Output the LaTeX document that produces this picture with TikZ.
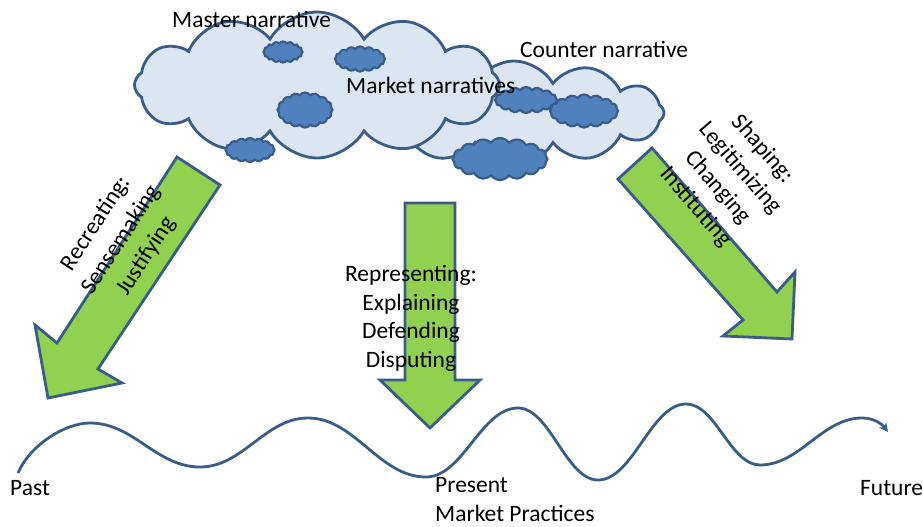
\documentclass[tikz,border=0pt]{standalone}
\usepackage{fontspec}
\setmainfont{Carlito}
\usetikzlibrary{shapes.symbols,arrows.meta}
\definecolor{cloudfill}{HTML}{DCE6F2}
\definecolor{edgeblue}{HTML}{385D8A}
\definecolor{darkcloud}{HTML}{4F81BD}
\definecolor{arrowgreen}{HTML}{92D050}
\begin{document}
\begin{tikzpicture}[x=1pt,y=1pt,
  bigcloud/.style={cloud, draw=edgeblue, fill=cloudfill, line width=2.8pt, cloud puffs=12, cloud puff arc=120, inner sep=0pt},
  smallcloud/.style={cloud, draw=edgeblue, fill=darkcloud, line width=2.2pt, cloud puffs=16, cloud puff arc=110, inner sep=0pt},
  greenarrow/.style={draw=edgeblue, fill=arrowgreen, line width=2.8pt, line join=miter},
  lbl/.style={font=\fontsize{23.5}{28.5}\selectfont, inner sep=0pt},
  wave/.style={draw=edgeblue, line width=2.8pt, -{Stealth[length=9pt,width=9pt]}}]
\useasboundingbox[fill=white] (0,0) rectangle (923,-527);

% clouds
\node[bigcloud, minimum width=300pt, minimum height=104pt, aspect=2.9] (counter) at (514,-113) {};
\node[bigcloud, minimum width=365pt, minimum height=146pt, aspect=2.5] (master) at (317,-85) {};
\node[smallcloud, minimum width=39pt, minimum height=21pt, aspect=1.8] (s1) at (283,-52) {};
\node[smallcloud, minimum width=50pt, minimum height=25pt, aspect=2] (s2) at (360,-59) {};
\node[smallcloud, minimum width=55pt, minimum height=35pt, aspect=1.6] (s3) at (305,-110) {};
\node[smallcloud, minimum width=49pt, minimum height=24pt, aspect=2] (s4) at (250,-150) {};
\node[smallcloud, minimum width=62pt, minimum height=26pt, aspect=2.4] (s5) at (526,-100) {};
\node[smallcloud, minimum width=68pt, minimum height=33pt, aspect=2.1] (s6) at (584,-111) {};
\node[smallcloud, minimum width=95pt, minimum height=42pt, aspect=2.3] (s7) at (500,-159) {};

% green arrows
\draw[greenarrow] (177,-157) -- (220,-185) -- (98,-369) -- (122,-383) -- (48,-398) -- (35,-325) -- (57,-343) -- cycle;
\draw[greenarrow] (405,-203) -- (455,-203) -- (455,-380) -- (480,-380) -- (430,-428) -- (380,-380) -- (405,-380) -- cycle;
\draw[greenarrow] (652,-148) -- (777,-292) -- (795,-272) -- (792,-339) -- (723,-336) -- (743,-320) -- (618,-179) -- cycle;

% wave
\coordinate (w0) at (18,-473);
\coordinate (w9) at (888,-432);
\draw[wave] (w0) .. controls (30,-445) and (65,-423) .. (90,-423)
  .. controls (134,-423) and (156,-467) .. (200,-467)
  .. controls (243,-467) and (265,-418) .. (308,-418)
  .. controls (355,-418) and (379,-477) .. (426,-477)
  .. controls (463,-477) and (481,-408) .. (518,-408)
  .. controls (550,-408) and (566,-480) .. (598,-480)
  .. controls (633,-480) and (651,-404) .. (686,-404)
  .. controls (716,-404) and (730,-465) .. (760,-465)
  .. controls (800,-465) and (822,-418) .. (862,-418)
  .. controls (874,-418) and (882,-424) .. (w9);

% labels
\node[lbl, anchor=base west] (tmaster) at (172,-28) {Master narrative};
\node[lbl, anchor=base west] (tmarket) at (346,-93) {Market narratives};
\node[lbl, anchor=base west] (tcounter) at (520,-58) {Counter narrative};
\node[lbl, align=center, rotate=57, font=\fontsize{23.5}{30}\selectfont] (tleft) at (121,-240) {Recreating:\\Sensemaking\\Justifying};
\node[lbl, align=center, rotate=-49, font=\fontsize{23.5}{29.5}\selectfont] (tright) at (729,-178) {Shaping:\\Legitimizing\\Changing\\Instituting};
\node[lbl, align=center, anchor=base] (tmid) at (411,-367) {Representing:\\Explaining\\Defending\\Disputing};
\node[lbl, anchor=base west] (tpast) at (10,-495) {Past};
\node[lbl, anchor=base west, align=left] (tpresent) at (435,-521) {Present\\Market Practices};
\node[lbl, anchor=base west] (tfuture) at (860,-495) {Future};
\end{tikzpicture}
\end{document}
